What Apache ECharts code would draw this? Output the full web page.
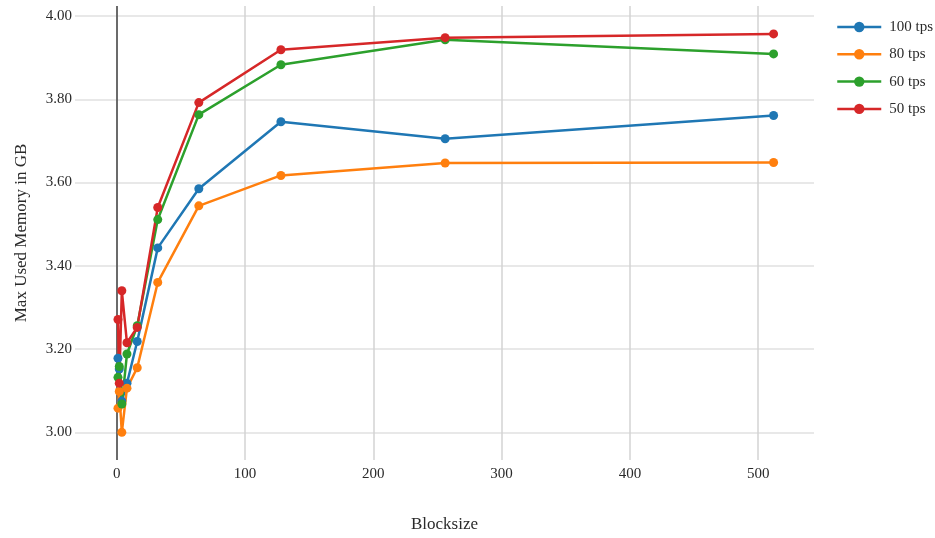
<!DOCTYPE html>
<html>
<head>
<meta charset="utf-8">
<script src="https://cdn.jsdelivr.net/npm/echarts@6/dist/echarts.min.js"></script>
<style>
html,body{margin:0;padding:0;background:#fff;}
#chart{width:935px;height:538px;}
</style>
</head>
<body>
<div id="chart"></div>
<script>
var blocksizes = [1, 2, 4, 8, 16, 32, 64, 128, 256, 512];
var seriesNames = ['100 tps', '80 tps', '60 tps', '50 tps'];
var tps100 = [3.178, 3.152, 3.075, 3.118, 3.218, 3.443, 3.585, 3.746, 3.705, 3.761];
var tps80  = [3.058, 3.098, 3.000, 3.106, 3.155, 3.360, 3.544, 3.617, 3.647, 3.648];
var tps60  = [3.132, 3.158, 3.068, 3.188, 3.256, 3.511, 3.763, 3.883, 3.943, 3.909];
var tps50  = [3.271, 3.118, 3.340, 3.215, 3.252, 3.540, 3.792, 3.919, 3.948, 3.957];
var xTicks = [0, 100, 200, 300, 400, 500];
var yTicks = [3.0, 3.2, 3.4, 3.6, 3.8, 4.0];
var colors = ['#1f77b4', '#ff7f0e', '#2ca02c', '#d62728'];

var allValues = [tps100, tps80, tps60, tps50];
var font = 'Liberation Serif, Times New Roman, serif';
var textColor = '#2a2a2a';

var series = allValues.map(function (vals, i) {
  var s = {
    name: seriesNames[i],
    type: 'line',
    data: blocksizes.map(function (b, j) { return [b, vals[j]]; }),
    symbol: 'circle',
    symbolSize: 9,
    showSymbol: true,
    lineStyle: { width: 2.5, color: colors[i] },
    itemStyle: { color: colors[i] },
    emphasis: { disabled: true }
  };
  if (i === 0) {
    s.markLine = {
      silent: true,
      symbol: ['none', 'none'],
      label: { show: false },
      lineStyle: { color: '#444', width: 1.5, type: 'solid' },
      data: [{ xAxis: 0 }],
      z: 1
    };
  }
  return s;
});

var chart = echarts.init(document.getElementById('chart'), null, { renderer: 'canvas' });
chart.setOption({
  animation: false,
  backgroundColor: '#fff',
  color: colors,
  textStyle: { fontFamily: font },
  grid: { left: 75, right: 121, top: 6, bottom: 78, containLabel: false },
  legend: {
    orient: 'vertical',
    left: 831,
    top: 14.5,
    itemWidth: 44,
    itemHeight: 13,
    itemGap: 12.3,
    lineStyle: { width: 2.5 },
    textStyle: { fontFamily: font, fontSize: 15, color: textColor, padding: [0, 0, 0, 3] },
    data: seriesNames
  },
  xAxis: {
    type: 'value',
    min: -32.5,
    max: 543.5,
    name: 'Blocksize',
    nameLocation: 'middle',
    nameGap: 56,
    nameTextStyle: { fontFamily: font, fontSize: 17, color: textColor },
    axisLine: { show: false },
    axisTick: { show: false, customValues: xTicks },
    axisLabel: { customValues: xTicks, fontFamily: font, fontSize: 15, color: textColor, margin: 7 },
    splitLine: { show: true, lineStyle: { color: '#d3d3d3', width: 1.5 } }
  },
  yAxis: {
    type: 'value',
    min: 2.9335,
    max: 4.024,
    name: 'Max Used Memory in GB',
    nameLocation: 'middle',
    nameGap: 45,
    nameTextStyle: { fontFamily: font, fontSize: 17, color: textColor },
    axisLine: { show: false },
    axisTick: { show: false, customValues: yTicks },
    axisLabel: {
      customValues: yTicks, fontFamily: font, fontSize: 15, color: textColor, margin: 3,
      formatter: function (v) { return v.toFixed(2); }
    },
    splitLine: { show: true, lineStyle: { color: '#e0e0e0', width: 1.5 } }
  },
  series: series
});
</script>
</body>
</html>
